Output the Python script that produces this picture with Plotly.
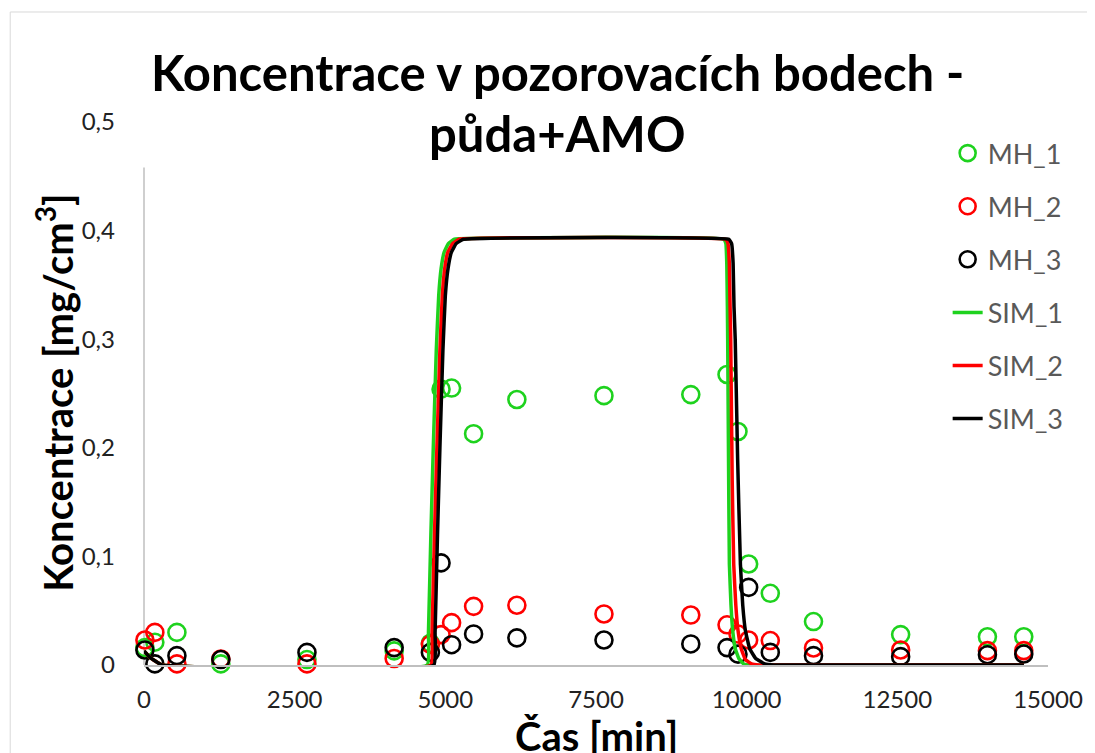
import plotly.graph_objects as go

# measured points (time in min, concentration in mg/cm3)
t_mh = [15, 180, 546, 1275, 2704, 4151, 4752, 4929, 5104, 5469, 6187,
        7632, 9073, 9674, 9856, 10033, 10392, 11109, 12555, 13995, 14598]
mh_1 = [0.016, 0.021, 0.030, 0.001, 0.005, 0.013, 0.020, 0.254, 0.255, 0.213, 0.2445,
        0.248, 0.249, 0.2675, 0.215, 0.093, 0.066, 0.040, 0.028, 0.026, 0.026]
mh_2 = [0.023, 0.030, 0.001, 0.0055, 0.001, 0.006, 0.019, 0.028, 0.039, 0.054, 0.055,
        0.047, 0.046, 0.037, 0.0285, 0.023, 0.0225, 0.0157, 0.0138, 0.0132, 0.0132]
mh_3 = [0.0138, 0.001, 0.0086, 0.005, 0.0116, 0.016, 0.0116, 0.094, 0.0187, 0.0286, 0.025,
        0.023, 0.0194, 0.016, 0.010, 0.0715, 0.0116, 0.0086, 0.0077, 0.0095, 0.0101]

# simulated curves
t_sim_1 = [0, 100, 300, 4700, 4720, 4760, 4800, 4850, 4890, 4930, 4980, 5050, 5150,
           9620, 9655, 9670, 9680, 9685, 9700, 9713, 9740, 9768, 9810, 9870, 9950, 10050, 14600]
sim_1 = [0.013, 0.007, 0, 0, 0.03, 0.12, 0.2, 0.29, 0.34, 0.365, 0.38, 0.388, 0.392,
         0.392, 0.388, 0.37, 0.33, 0.30, 0.18, 0.093, 0.055, 0.032, 0.015, 0.006, 0.001, 0, 0]
t_sim_2 = [0, 100, 300, 4760, 4780, 4820, 4860, 4910, 4950, 4990, 5040, 5120, 5230,
           9650, 9690, 9712, 9725, 9735, 9760, 9785, 9820, 9856, 9910, 9980, 10080, 10200, 14600]
sim_2 = [0.013, 0.007, 0, 0, 0.03, 0.12, 0.2, 0.29, 0.34, 0.365, 0.38, 0.388, 0.392,
         0.392, 0.388, 0.37, 0.33, 0.30, 0.17, 0.093, 0.055, 0.032, 0.015, 0.005, 0.001, 0, 0]
t_sim_3 = [0, 100, 300, 4810, 4830, 4870, 4910, 4960, 5000, 5045, 5100, 5180, 5300,
           9705, 9750, 9775, 9790, 9810, 9850, 9896, 9935, 9978, 10050, 10150, 10300, 10450, 14600]
sim_3 = [0.013, 0.007, 0, 0, 0.03, 0.12, 0.2, 0.29, 0.34, 0.365, 0.38, 0.388, 0.392,
         0.392, 0.388, 0.37, 0.33, 0.30, 0.19, 0.093, 0.055, 0.032, 0.015, 0.006, 0.001, 0, 0]

x_ticks = [0, 2500, 5000, 7500, 10000, 12500, 15000]
x_labels = ["0", "2500", "5000", "7500", "10000", "12500", "15000"]
y_ticks = [0, 0.1, 0.2, 0.3, 0.4, 0.5]
y_labels = ["0", "0,1", "0,2", "0,3", "0,4", "0,5"]

GREEN = "#1ED21E"
RED = "#FF0000"
BLACK = "#000000"
FONT = "Lato"

fig = go.Figure()
for name, ys, col in [("MH_1", mh_1, GREEN), ("MH_2", mh_2, RED), ("MH_3", mh_3, BLACK)]:
    fig.add_trace(go.Scatter(
        x=t_mh, y=ys, name=name, mode="markers", legendgroup=name, cliponaxis=False,
        marker=dict(symbol="circle-open", size=17, color=col, line=dict(width=2.6, color=col))
    ))
for name, ts, ys, col in [("SIM_1", t_sim_1, sim_1, GREEN), ("SIM_2", t_sim_2, sim_2, RED),
                          ("SIM_3", t_sim_3, sim_3, BLACK)]:
    fig.add_trace(go.Scatter(
        x=ts, y=ys, name=name, mode="lines", legendgroup=name, cliponaxis=False,
        line=dict(color=col, width=3.5, shape="spline", smoothing=0.3)
    ))

# the page body adds an 8 px offset, so the figure is 8 px smaller than the window
fig.update_layout(
    width=1087, height=745,
    margin=dict(l=136, r=45, t=114, b=88),
    paper_bgcolor="white", plot_bgcolor="white",
    font=dict(family=FONT, color="#222222"),
    showlegend=True,
    legend=dict(x=0.889, y=0.987, xanchor="left", yanchor="top", bgcolor="rgba(0,0,0,0)",
                font=dict(size=27, color="#595959", family=FONT),
                traceorder="grouped", tracegroupgap=15, itemsizing="trace"),
    xaxis=dict(range=[0, 15000], tickvals=x_ticks, ticktext=x_labels, showgrid=False,
               zeroline=False, showline=True, linecolor="#BFBFBF", linewidth=1.5,
               ticks="", tickfont=dict(size=24, color="#222222"), ticklabelstandoff=12),
    yaxis=dict(range=[0, 0.5], tickvals=y_ticks, ticktext=y_labels, showgrid=False,
               zeroline=False, showline=False, ticks="",
               tickfont=dict(size=24, color="#222222"), ticklabelstandoff=28),
)

# outer chart border and the visible part of the y axis line
fig.add_shape(type="rect", xref="paper", yref="paper", x0=-0.148, x1=1.2, y0=-0.3, y1=1.2026,
              line=dict(color="#D9D9D9", width=1), fillcolor="rgba(0,0,0,0)", layer="below")
fig.add_shape(type="line", xref="paper", yref="y", x0=0, x1=0, y0=0, y1=0.458,
              line=dict(color="#BFBFBF", width=1.5), layer="below")

fig.add_annotation(text="<b>Koncentrace v pozorovacích bodech -</b>", xref="paper", yref="paper",
                   x=0.457, y=1.092, xanchor="center", yanchor="middle", showarrow=False,
                   font=dict(size=49, color="#000000", family=FONT))
fig.add_annotation(text="<b>půda+AMO</b>", xref="paper", yref="paper",
                   x=0.457, y=0.98, xanchor="center", yanchor="middle", showarrow=False,
                   font=dict(size=49, color="#000000", family=FONT))
fig.add_annotation(text="<b>Koncentrace [mg/cm<sup>3</sup>]</b>", xref="paper", yref="paper",
                   x=-0.098, y=0.502, xanchor="center", yanchor="middle", textangle=-90,
                   showarrow=False, font=dict(size=40, color="#000000", family=FONT))
fig.add_annotation(text="<b>Čas [min]</b>", xref="paper", yref="paper",
                   x=0.5, y=-0.13, xanchor="center", yanchor="middle", showarrow=False,
                   font=dict(size=40, color="#000000", family=FONT))

fig.write_html("out.html")
